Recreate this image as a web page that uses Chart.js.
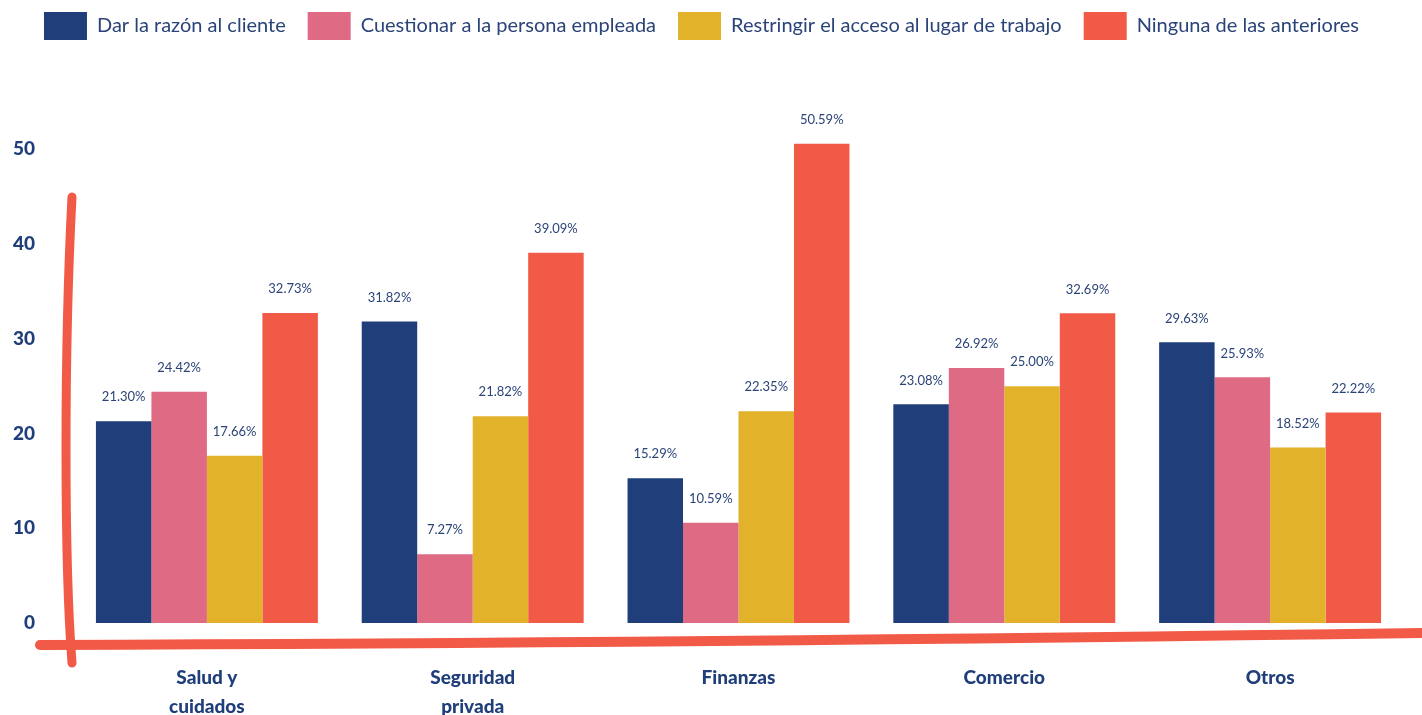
<!DOCTYPE html>
<html>
<head>
<meta charset="utf-8">
<script src="https://cdn.jsdelivr.net/npm/chart.js@4.4.0/dist/chart.umd.min.js"></script>
<style>
  html, body { margin: 0; padding: 0; background: #fff; overflow: hidden; }
  #wrap { width: 1422px; height: 715px; position: relative; }
</style>
</head>
<body>
<div id="wrap"><canvas id="myChart"></canvas></div>
<script>
const categories = [['Salud y', 'cuidados'], ['Seguridad', 'privada'], 'Finanzas', 'Comercio', 'Otros'];
const seriesNames = ['Dar la razón al cliente', 'Cuestionar a la persona empleada', 'Restringir el acceso al lugar de trabajo', 'Ninguna de las anteriores'];
const darRazon = [21.30, 31.82, 15.29, 23.08, 29.63];
const cuestionar = [24.42, 7.27, 10.59, 26.92, 25.93];
const restringir = [17.66, 21.82, 22.35, 25.00, 18.52];
const ninguna = [32.73, 39.09, 50.59, 32.69, 22.22];
const yTicks = [0, 10, 20, 30, 40, 50];

const colors = ['#1f3e7a', '#de6b83', '#e2b22b', '#f25a48'];
const navy = '#1f3e7a';
const fontFamily = 'Lato, "Noto Sans", sans-serif';

// extra room under the legend
const legendSpacing = {
    id: 'legendSpacing',
    beforeInit(chart) {
        const origFit = chart.legend.fit;
        chart.legend.fit = function fit() {
            origFit.bind(chart.legend)();
            this.height += 52;
        };
    }
};

// percentage labels above each bar
const barLabels = {
    id: 'barLabels',
    afterDatasetsDraw(chart) {
        const ctx = chart.ctx;
        ctx.save();
        ctx.font = '13px ' + fontFamily;
        ctx.fillStyle = '#2b4478';
        ctx.textAlign = 'center';
        ctx.textBaseline = 'middle';
        chart.data.datasets.forEach((ds, i) => {
            chart.getDatasetMeta(i).data.forEach((bar, j) => {
                ctx.fillText(ds.data[j].toFixed(2) + '%', bar.x, bar.y - 24);
            });
        });
        ctx.restore();
    }
};

// hand drawn red axes
const sketchAxes = {
    id: 'sketchAxes',
    afterDraw(chart) {
        const ctx = chart.ctx;
        const a = chart.chartArea;
        ctx.save();
        ctx.strokeStyle = '#f25a48';
        ctx.lineWidth = 9;
        ctx.lineCap = 'round';
        // vertical
        const x0 = a.left - 2;
        ctx.beginPath();
        ctx.moveTo(x0, 197);
        ctx.bezierCurveTo(x0 - 8, 350, x0 - 8, 560, x0, a.bottom + 40);
        ctx.stroke();
        // horizontal
        ctx.lineWidth = 10;
        ctx.beginPath();
        ctx.moveTo(40, a.bottom + 22);
        ctx.quadraticCurveTo(700, a.bottom + 20, chart.width + 5, a.bottom + 10);
        ctx.stroke();
        ctx.restore();
    }
};

const ctx = document.getElementById('myChart').getContext('2d');
const myChart = new Chart(ctx, {
    type: 'bar',
    data: {
        labels: categories,
        datasets: [darRazon, cuestionar, restringir, ninguna].map((d, i) => ({
            label: seriesNames[i],
            data: d,
            backgroundColor: colors[i],
            borderWidth: 0,
            barPercentage: 1,
            categoryPercentage: 0.835
        }))
    },
    plugins: [legendSpacing, barLabels, sketchAxes],
    options: {
        responsive: true,
        maintainAspectRatio: false,
        animation: false,
        layout: { padding: { left: 0, right: 19, top: -10, bottom: 0 } },
        plugins: {
            tooltip: { enabled: false },
            legend: {
                position: 'top',
                labels: {
                    boxWidth: 43,
                    boxHeight: 28,
                    padding: 22,
                    color: '#2b4478',
                    font: { family: fontFamily, size: 20 }
                }
            }
        },
        scales: {
            x: {
                grid: { display: false, drawTicks: false },
                border: { display: false },
                afterFit(scale) { scale.height = 92; },
                ticks: {
                    color: navy,
                    padding: 41,
                    font: { family: fontFamily, size: 19, weight: '900', lineHeight: 1.5 }
                }
            },
            y: {
                min: 0,
                max: 55,
                grid: { display: false, drawTicks: false },
                border: { display: false },
                afterFit(scale) { scale.width = 74; },
                afterBuildTicks(scale) {
                    scale.ticks = yTicks.map(v => ({ value: v }));
                },
                ticks: {
                    color: navy,
                    padding: 39,
                    font: { family: fontFamily, size: 19, weight: '900' }
                }
            }
        }
    }
});
</script>
</body>
</html>
